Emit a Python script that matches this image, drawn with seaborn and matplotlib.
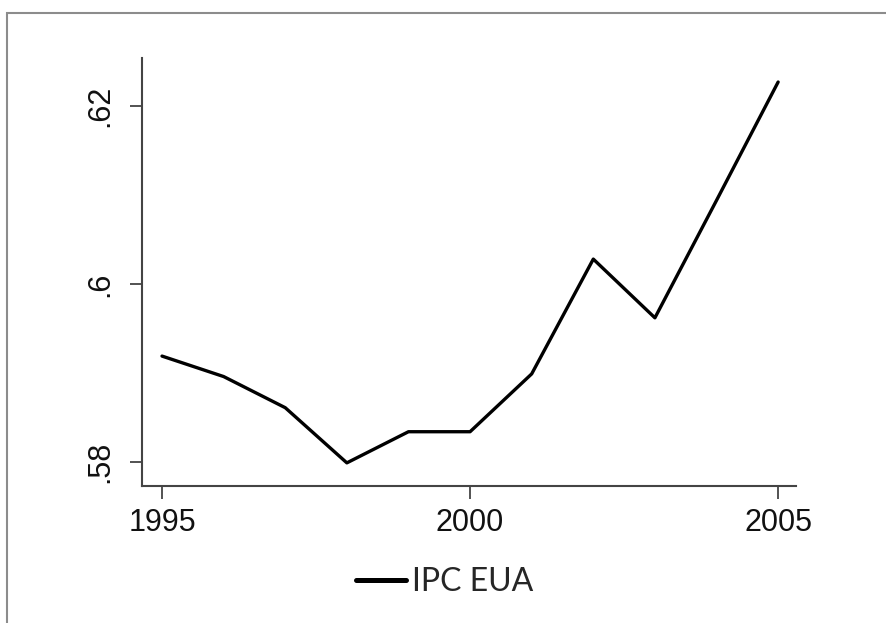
import pandas as pd
import matplotlib.pyplot as plt
from matplotlib.patches import Rectangle
import seaborn as sns

# Données
anos = [1995, 1996, 1997, 1998, 1999, 2000, 2001, 2002, 2003, 2004, 2005]
ipc_eua = [0.5919, 0.5896, 0.5861, 0.5799, 0.5834, 0.5834,
           0.5899, 0.6028, 0.5962, 0.6094, 0.6227]
xticks = [1995, 2000, 2005]
yticks = [0.58, 0.60, 0.62]
ytick_labels = ['.58', '.6', '.62']

df = pd.DataFrame({'ano': anos, 'IPC EUA': ipc_eua})

sns.set_style('white')
plt.rcParams['font.family'] = ['Liberation Sans', 'DejaVu Sans']

W, H = 886, 623
fig = plt.figure(figsize=(W / 100, H / 100), dpi=100)
ax = fig.add_axes([142 / W, 1 - 486 / H, (796 - 142) / W, (486 - 58) / H])

sns.lineplot(data=df, x='ano', y='IPC EUA', color='black', linewidth=2.4,
             ax=ax, label='IPC EUA', legend=False)

ax.set_xlim(1994.675, 2005.29)
ax.set_ylim(0.5773, 0.6254)
ax.set_xticks(xticks)
ax.set_xticklabels([str(t) for t in xticks])
ax.set_yticks(yticks)
ax.set_yticklabels(ytick_labels, rotation=90, va='center')
ax.set_xlabel('')
ax.set_ylabel('')

for s in ['top', 'right']:
    ax.spines[s].set_visible(False)
for s in ['left', 'bottom']:
    ax.spines[s].set_color('#444444')
    ax.spines[s].set_linewidth(1.5)

ax.tick_params(axis='both', which='major', length=9, width=1.3, color='#444444',
               labelsize=22, labelcolor='#111111', direction='out',
               left=True, bottom=True)
ax.tick_params(axis='x', pad=7)
ax.tick_params(axis='y', pad=10)

# Légende sous le graphique
handles, labels = ax.get_lines(), ['IPC EUA']
leg = fig.legend(handles[:1], labels, loc='center',
                 bbox_to_anchor=(445 / W, 1 - 582 / H), frameon=False,
                 handlelength=1.55, handletextpad=0.2,
                 prop={'family': 'Lato', 'size': 23})
for h in leg.legend_handles:
    h.set_linewidth(3.6)

# Cadre extérieur (haut et gauche)
fig.add_artist(Rectangle((7 / W, -0.2), 1.5, 1.2 - 13 / H,
                         transform=fig.transFigure, fill=False,
                         edgecolor='#8c8c8c', linewidth=1.5))

plt.savefig('out.png', dpi=100)
plt.close()
